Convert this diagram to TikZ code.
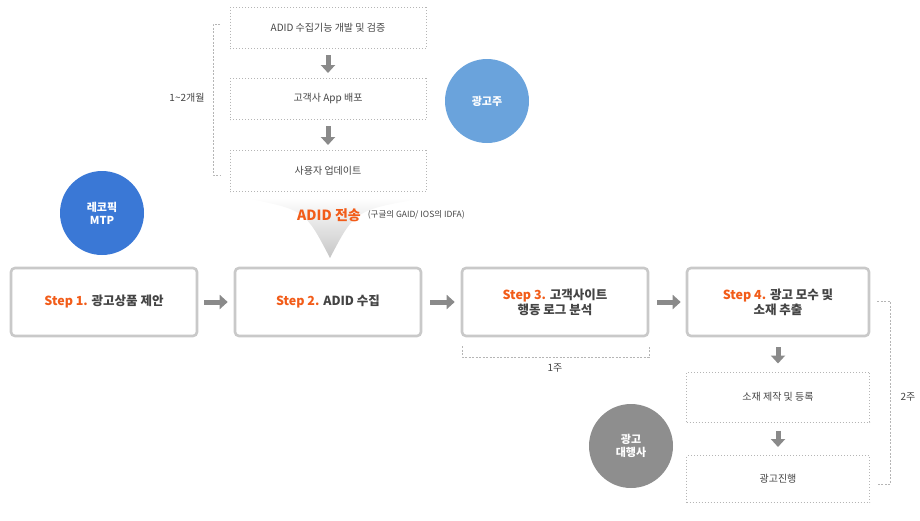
\documentclass[tikz,border=0pt]{standalone}
\usepackage{fontspec}
\setmainfont{Noto Sans CJK KR}
\usetikzlibrary{arrows.meta,positioning}
\definecolor{stepgray}{HTML}{C9C9C9}
\definecolor{dotgray}{HTML}{B5B5B5}
\definecolor{arrgray}{HTML}{8A8A8A}
\definecolor{txtgray}{HTML}{444444}
\definecolor{orangeA}{HTML}{F25C19}
\definecolor{blueA}{HTML}{6AA3DC}
\definecolor{blueB}{HTML}{3A78D6}
\definecolor{grayC}{HTML}{8E8E8E}
\begin{document}
\begin{tikzpicture}[x=1pt,y=-1pt,font=\fontsize{10}{12}\selectfont,text=txtgray]
% Styles for boxes and arrows
\tikzstyle{step box}=[draw=stepgray,line width=2.6pt,rounded corners=4pt,minimum width=186pt,minimum height=68pt,fill=white,align=center,font=\fontsize{12.5}{15}\selectfont\bfseries];
\tikzstyle{dot box}=[draw=dotgray,line width=1pt,dash pattern=on 1pt off 2pt,minimum width=196pt,minimum height=41pt,align=center];
\tikzstyle{actor}=[circle,minimum size=84pt,text=white,align=center,font=\fontsize{11}{13}\selectfont\bfseries];
\tikzstyle{block arrow}=[draw=arrgray,line width=5pt,-{Triangle[length=8pt,width=14pt]}];
\tikzstyle{side bracket}=[draw=dotgray,dash pattern=on 2pt off 1.5pt,line width=0.8pt];
\useasboundingbox (0,0) rectangle (920,520);
% top column
\node[dot box](dev) at (328,28){ADID 수집기능 개발 및 검증};
\node[dot box](app) at (328,99){고객사 App 배포};
\node[dot box](upd) at (328,171){사용자 업데이트};
\draw[block arrow,shorten <=6pt,shorten >=5pt](dev)--(app);
\draw[block arrow,shorten <=6pt,shorten >=5pt](app)--(upd);
\coordinate(b1) at (220,24); \coordinate(b2) at (220,175);
\draw[side bracket](b1)--++(-7,0)|-(b2);
\node(months) at (187,98){1\textasciitilde2개월};
\node[actor,fill=blueA](adv) at (487,101){광고주};
\node[actor,fill=blueB](mtp) at (102,213){레코픽\\MTP};
% funnel
\shade[top color=white,bottom color=gray!45](245,198) .. controls (305,210) .. (330,258) .. controls (355,210) .. (425,198) -- cycle;
\node[text=orangeA,font=\fontsize{14}{16}\selectfont\bfseries](send) at (329,215){ADID 전송};
\node[right=0pt of send,font=\fontsize{8.5}{10}\selectfont](ids){(구글의 GAID/ IOS의 IDFA)};
% steps
\node[step box](s1) at (104,302){\textcolor{orangeA}{Step 1.} 광고상품 제안};
\node[step box](s2) at (328,302){\textcolor{orangeA}{Step 2.} ADID 수집};
\node[step box](s3) at (555,302){\textcolor{orangeA}{Step 3.} 고객사이트\\행동 로그 분석};
\node[step box,minimum width=182pt](s4) at (778,302){\textcolor{orangeA}{Step 4.} 광고 모수 및\\소재 추출};
\draw[block arrow,shorten <=6pt,shorten >=6pt](s1)--(s2);
\draw[block arrow,shorten <=8pt,shorten >=6pt](s2)--(s3);
\draw[block arrow,shorten <=8pt,shorten >=5pt](s3)--(s4);
\coordinate(w1) at (462,346); \coordinate(w2) at (649,346);
\draw[side bracket](w1)--++(0,11)-|(w2);
\node(week1) at (555,368){1주};
% lower column
\node[dot box,minimum width=183pt,minimum height=50pt](make) at (778,397){소재 제작 및 등록};
\node[dot box,minimum width=183pt,minimum height=47pt](run) at (778,479){광고진행};
\draw[block arrow,shorten <=10pt,shorten >=8pt](s4)--(make);
\draw[block arrow,shorten <=8pt,shorten >=8pt](make)--(run);
\coordinate(r1) at (877,301); \coordinate(r2) at (877,484);
\draw[side bracket](r1)--++(13,0)|-(r2);
\node(week2) at (908,397){2주};
\node[actor,fill=grayC](agency) at (631,446){광고\\대행사};
\end{tikzpicture}
\end{document}
